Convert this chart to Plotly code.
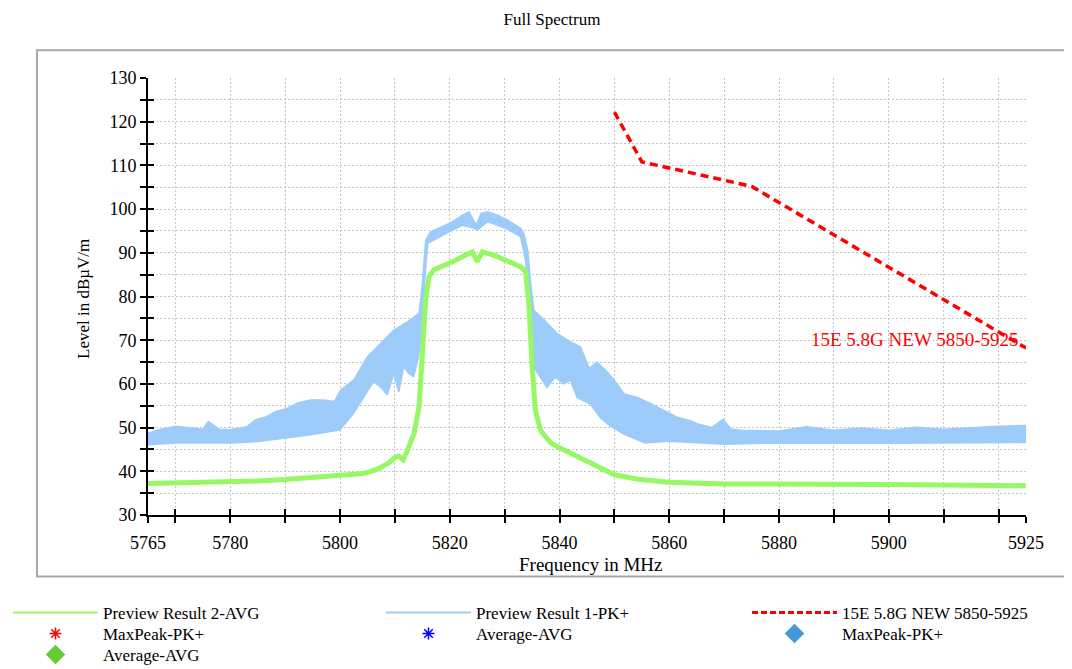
import plotly.graph_objects as go

# 频谱数据 (MHz, dBµV/m)
# PK+ 上包络
pk_up_freq = [5765, 5767, 5770, 5773, 5775, 5776, 5778, 5780, 5783, 5784.6, 5786.6, 5788.3,
              5790.4, 5792.2, 5794.6, 5797, 5799, 5800.1, 5802.5, 5805, 5807.4, 5809.8, 5812.3,
              5814.4, 5815, 5815.6, 5816.5, 5819.9, 5822.3, 5823.5, 5824.8, 5825.7, 5826.9,
              5828.7, 5830.5, 5832.9, 5833.5, 5834.2, 5834.8, 5835.3, 5837.2, 5839.6, 5842,
              5843.8, 5845.4, 5846.8, 5848.4, 5850, 5851.8, 5854.2, 5856.7, 5859.2, 5861.6,
              5864, 5865.2, 5867.7, 5869.8, 5871.3, 5873, 5880, 5885, 5890, 5895, 5900, 5905,
              5910, 5915, 5920, 5925]
pk_up_level = [48.7, 49.5, 50.3, 49.9, 49.6, 51.4, 49.6, 49.5, 50.2, 51.8, 52.5, 53.7,
               54.4, 55.6, 56.3, 56.3, 56.0, 58.6, 60.9, 66.2, 69.3, 72.3, 74.2,
               76.2, 83.0, 92.9, 94.8, 96.7, 98.6, 99.4, 96.3, 99.0, 99.4,
               98.6, 97.5, 95.6, 94.4, 90.6, 82.2, 76.9, 74.6, 71.5, 69.6,
               68.5, 63.5, 65.0, 63.1, 60.8, 57.7, 56.9, 55.4, 53.8, 52.3,
               51.5, 50.8, 50.0, 51.9, 49.6, 49.4, 49.2, 50.2, 49.4, 49.9, 49.4, 50.1,
               49.6, 50.0, 50.3, 50.5]

# PK+ 下包络
pk_lo_freq = [5765, 5770, 5780, 5785, 5790, 5795, 5800, 5802.5, 5803.7, 5806.1, 5807.3,
              5808.6, 5809.8, 5810.7, 5811.6, 5812.5, 5813.4, 5814.3, 5815, 5815.6, 5816,
              5819.9, 5822.3, 5824.4, 5825, 5826.9, 5830.2, 5832.9, 5833.8, 5834.4, 5835,
              5835.3, 5836.5, 5837.7, 5839.2, 5840.8, 5842, 5843.2, 5844.4, 5845.6, 5847.4,
              5849.2, 5851.7, 5855.6, 5860, 5865, 5870, 5880, 5900, 5925]
pk_lo_level = [46.1, 46.5, 46.5, 46.8, 47.6, 48.4, 49.5, 53.3, 55.6, 60.5, 59.4,
               57.5, 62.4, 58.2, 64.0, 62.4, 61.7, 66.2, 74.6, 86.8, 92.2,
               94.8, 96.3, 95.6, 95.2, 97.1, 95.6, 93.7, 88.3, 76.9, 67.0,
               63.8, 61.5, 59.2, 61.5, 60.0, 60.8, 56.9, 56.2, 55.4, 52.3,
               50.4, 48.5, 46.5, 46.9, 46.5, 46.2, 46.5, 46.4, 46.6]

# AVG 曲线
avg_freq = [5765, 5770, 5775, 5780, 5785, 5790, 5795, 5800, 5803, 5805, 5807, 5809, 5810,
            5810.7, 5811.5, 5812.3, 5813.5, 5814.4, 5815, 5815.6, 5816.2, 5817.1, 5819.9,
            5822.3, 5824.1, 5825, 5825.9, 5828, 5830.2, 5832.9, 5833.8, 5834.4, 5835, 5835.6,
            5836.6, 5838.4, 5840, 5843.8, 5847, 5850, 5854.7, 5860, 5870, 5880, 5900, 5925]
avg_level = [37.2, 37.3, 37.4, 37.5, 37.8, 38.1, 38.5, 39.0, 39.4, 39.7, 40.6, 42.0, 43.2,
             43.5, 42.6, 44.9, 48.7, 54.8, 65.5, 79.2, 84.5, 86.1, 87.6,
             89.0, 90.2, 88.0, 90.2, 89.5, 88.3, 86.8, 85.7, 78.4, 64.0, 53.8,
             49.2, 46.5, 45.4, 43.1, 41.0, 39.2, 38.1, 37.5, 37.1, 37.1, 37.0, 36.7]

# 限值线
limit_freq = [5850, 5855, 5875, 5925]
limit_level = [122.2, 110.8, 105.2, 68.2]

# 坐标轴刻度
x_ticks = [5765] + list(range(5770, 5921, 10)) + [5925]
x_labels = {5765: "5765", 5780: "5780", 5800: "5800", 5820: "5820", 5840: "5840",
            5860: "5860", 5880: "5880", 5900: "5900", 5925: "5925"}
y_ticks = list(range(30, 131, 5))

FONT = "Liberation Serif, Times New Roman, serif"
BLUE = "#9dcbfa"
GREEN = "#98f765"
RED = "#ff0000"

# 页面 body 默认有 8px 边距，整体向左上偏移补偿
OFF = 8

fig = go.Figure()

# PK+ 噪声带
fig.add_trace(go.Scatter(
    x=pk_up_freq + pk_lo_freq[::-1],
    y=pk_up_level + pk_lo_level[::-1],
    fill="toself",
    fillcolor=BLUE,
    line=dict(color=BLUE, width=1.5),
    mode="lines",
    showlegend=False,
    hoverinfo="skip"
))

# AVG 曲线
fig.add_trace(go.Scatter(
    x=avg_freq, y=avg_level,
    mode="lines",
    line=dict(color=GREEN, width=5),
    showlegend=False
))

# 限值线
fig.add_trace(go.Scatter(
    x=limit_freq, y=limit_level,
    mode="lines",
    line=dict(color=RED, width=3.5, dash="8px,5px"),
    showlegend=False
))

# 反向刻度用的辅助轴
fig.add_trace(go.Scatter(x=[None], y=[None], xaxis="x2", yaxis="y2",
                         showlegend=False, hoverinfo="skip"))

# 图例条目: (文字左端 x, 行中心 y, 条目)
legend_items = [
    (103, 613, dict(name="Preview Result 2-AVG", mode="lines", line=dict(color=GREEN, width=2))),
    (476, 613, dict(name="Preview Result 1-PK+", mode="lines", line=dict(color=BLUE, width=2))),
    (842, 613, dict(name="15E 5.8G NEW 5850-5925", mode="lines",
                    line=dict(color=RED, width=3, dash="6px,3px"))),
    (103, 634, dict(name="MaxPeak-PK+", mode="markers",
                    marker=dict(symbol="asterisk", color=RED, size=10, line=dict(color=RED, width=1.5)))),
    (476, 634, dict(name="Average-AVG", mode="markers",
                    marker=dict(symbol="asterisk", color="#0000ff", size=10,
                                line=dict(color="#0000ff", width=1.5)))),
    (842, 634, dict(name="MaxPeak-PK+", mode="markers",
                    marker=dict(symbol="diamond", color="#4499dd", size=15))),
    (103, 655, dict(name="Average-AVG", mode="markers",
                    marker=dict(symbol="diamond", color="#66cc33", size=15))),
]

legends = {}
for i, (tx, ty, item) in enumerate(legend_items):
    key = "legend" if i == 0 else f"legend{i + 1}"
    fig.add_trace(go.Scatter(x=[None], y=[None], showlegend=True, legend=key, **item))
    legends[key] = dict(
        orientation="v", xref="container", yref="container",
        x=max(tx - 95 - OFF, 0) / 1072, xanchor="left",
        y=1 - (ty - 18 - OFF) / 669, yanchor="top",
        font=dict(family=FONT, size=17), itemwidth=85,
        bgcolor="rgba(0,0,0,0)", borderwidth=0,
    )

fig.update_layout(
    width=1072, height=669,
    paper_bgcolor="white", plot_bgcolor="white",
    font=dict(family=FONT, color="black", size=17),
    margin=dict(l=148 - OFF, r=46 + OFF, t=78 - OFF, b=154 + OFF, autoexpand=False),
    title=dict(text="Full Spectrum", x=(552 - OFF) / 1072, xref="container", xanchor="center",
               y=1 - (19 - OFF) / 669, yref="container", yanchor="middle",
               font=dict(family=FONT, size=17)),
    xaxis=dict(
        range=[5765, 5925],
        tickmode="array", tickvals=x_ticks,
        ticktext=[x_labels.get(v, "") for v in x_ticks],
        showline=True, linecolor="black", linewidth=2,
        ticks="outside", ticklen=6, tickwidth=2, tickcolor="black",
        showgrid=True, gridcolor="#c4c4c4", gridwidth=1, griddash="2px,2px",
        zeroline=False, tickfont=dict(size=18), ticklabelstandoff=4,
    ),
    yaxis=dict(
        range=[30, 130],
        tickmode="array", tickvals=y_ticks,
        ticktext=[str(v) if v % 10 == 0 else "" for v in y_ticks],
        showline=True, linecolor="black", linewidth=2,
        ticks="outside", ticklen=6, tickwidth=2, tickcolor="black",
        showgrid=True, gridcolor="#c4c4c4", gridwidth=1, griddash="2px,2px",
        zeroline=False, tickfont=dict(size=18),
    ),
    xaxis2=dict(
        overlaying="x", matches="x", range=[5765, 5925], anchor="y2",
        tickmode="array", tickvals=x_ticks, showticklabels=False,
        ticks="inside", ticklen=6, tickwidth=2, tickcolor="black",
        showgrid=False, zeroline=False, showline=False,
    ),
    yaxis2=dict(
        overlaying="y", matches="y", range=[30, 130], anchor="x2",
        tickmode="array", tickvals=y_ticks, showticklabels=False,
        ticks="inside", ticklen=6, tickwidth=2, tickcolor="black",
        showgrid=False, zeroline=False, showline=False,
    ),
    showlegend=True,
    **legends,
)

# 轴标题
fig.add_annotation(text="Frequency in MHz", xref="paper", yref="paper",
                   x=(591 - 148) / 878, y=(515.3 - 565) / 437.6,
                   xanchor="center", yanchor="middle", showarrow=False,
                   font=dict(family=FONT, size=19))
fig.add_annotation(text="Level in dBµV/m", xref="paper", yref="paper",
                   x=(84 - 148) / 878, y=(515.3 - 299) / 437.6, textangle=-90,
                   xanchor="center", yanchor="middle", showarrow=False,
                   font=dict(family=FONT, size=17))

# 限值线标签
fig.add_annotation(text="15E 5.8G NEW 5850-5925", x=5924, y=70.2,
                   xanchor="right", yanchor="middle", showarrow=False,
                   font=dict(family=FONT, size=19, color=RED))

# 外框
fig.add_shape(type="rect", xref="paper", yref="paper",
              x0=(37 - 148) / 878, x1=(1069 - 148) / 878,
              y0=(515.3 - 577) / 437.6, y1=(515.3 - 50) / 437.6,
              line=dict(color="#a8a8a8", width=2), layer="below")

fig.write_html("out.html")
